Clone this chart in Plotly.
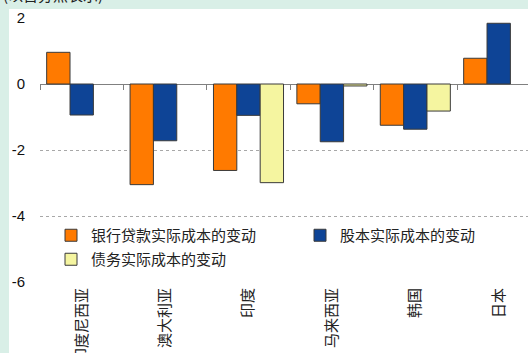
import plotly.graph_objects as go

categories = ["印度尼西亚", "澳大利亚", "印度", "马来西亚", "韩国", "日本"]
bank_loans = [0.96, -3.05, -2.62, -0.60, -1.25, 0.78]
equity = [-0.94, -1.72, -0.95, -1.75, -1.37, 1.84]
debt = [None, None, -2.99, -0.06, -0.82, None]
series_names = ["银行贷款实际成本的变动", "股本实际成本的变动", "债务实际成本的变动"]
y_ticks = [-6, -4, -2, 0, 2]

colors = ["#FF7A00", "#0E4496", "#F5F5A0"]
W, H = 528, 353
ML, MR, MT, MB = 40, 0, 18, 71
PW, PH = W - ML - MR, H - MT - MB

def px_x(p):
    return (p - ML) / PW

def px_y(p):
    return (H - MB - p) / PH

xs = list(range(len(categories)))
fig = go.Figure()
legends = ["legend", "legend3", "legend2"]
for name, vals, c, lg in zip(series_names, [bank_loans, equity, debt], colors, legends):
    fig.add_trace(go.Bar(x=xs, y=vals, name=name, legend=lg,
                         marker=dict(color=c, line=dict(color="#3a3a3a", width=1))))

# invisible trace for the zero-line tick axis
fig.add_trace(go.Scatter(x=[xs[0]], y=[0], xaxis="x2", mode="markers", marker=dict(opacity=0),
                         showlegend=False, hoverinfo="skip"))

legend_font = dict(family="Noto Sans CJK SC", size=15, color="#222")
xrange = [-0.5, -0.5 + PW / 83.4]
fig.update_layout(
    width=W, height=H,
    margin=dict(l=ML, r=MR, t=MT, b=MB, autoexpand=False),
    paper_bgcolor="#D9EFE7",
    plot_bgcolor="white",
    barmode="group", bargap=0.16, bargroupgap=0,
    font=dict(family="Noto Sans CJK SC", color="#111"),
    xaxis=dict(range=xrange, tickmode="array", tickvals=xs, ticktext=categories, tickangle=-90,
               showgrid=False, zeroline=False, showline=False, ticks="", automargin=False,
               tickfont=dict(family="Noto Sans CJK SC", size=15, color="#222"), ticklabelstandoff=2),
    xaxis2=dict(overlaying="x", anchor="free", position=px_y(84), range=xrange,
                tickmode="array", tickvals=[i - 0.5 for i in range(len(categories) + 1)],
                ticks="outside", ticklen=5, tickcolor="#808080", tickwidth=1, automargin=False,
                showticklabels=False, showgrid=False, zeroline=False, showline=False, side="bottom"),
    yaxis=dict(range=[-6, 2], tickmode="array", tickvals=y_ticks, ticktext=[str(v) for v in y_ticks],
               showgrid=True, gridcolor="#A8A8A8", griddash="dot", gridwidth=1, automargin=False,
               zeroline=True, zerolinecolor="#808080", zerolinewidth=1, showline=False,
               tickfont=dict(family="Liberation Sans Narrow, Liberation Sans, Arial", size=15, color="#111"),
               ticklabelstandoff=14),
    legend=dict(orientation="h", x=px_x(51), y=px_y(219), xanchor="left", yanchor="top",
                bgcolor="rgba(0,0,0,0)", font=legend_font),
    legend3=dict(orientation="h", x=px_x(300), y=px_y(219), xanchor="left", yanchor="top",
                 bgcolor="rgba(0,0,0,0)", font=legend_font),
    legend2=dict(orientation="h", x=px_x(51), y=px_y(243), xanchor="left", yanchor="top",
                 bgcolor="rgba(0,0,0,0)", font=legend_font),
    shapes=[dict(type="rect", xref="paper", yref="paper", x0=px_x(9), x1=1.05, y0=px_y(H + 10), y1=px_y(9),
                 fillcolor="white", line=dict(width=0), layer="below")],
    annotations=[dict(text="(以百分点表示)", xref="paper", yref="paper", x=px_x(1), y=px_y(-6),
                      xanchor="left", yanchor="middle", showarrow=False,
                      font=dict(family="Noto Sans CJK SC", size=15, color="#222"))],
)
fig.write_html("out.html", config={"displayModeBar": False},
               post_script=("document.body.style.margin='0px';"
                            "document.body.style.overflow='hidden';"
                            "document.documentElement.style.overflow='hidden';"))
